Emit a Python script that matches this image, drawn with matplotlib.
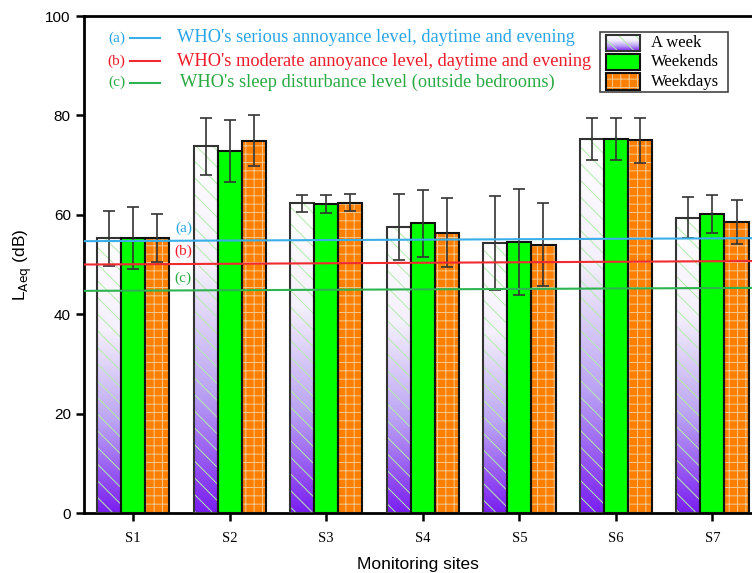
import numpy as np
import matplotlib.pyplot as plt
from matplotlib.colors import LinearSegmentedColormap
from matplotlib.patches import Rectangle

# data (dB)
sites = ['S1', 'S2', 'S3', 'S4', 'S5', 'S6', 'S7']
week = [55.3, 73.8, 62.3, 57.5, 54.3, 75.2, 59.4]
week_err = [5.5, 5.7, 1.7, 6.6, 9.5, 4.2, 4.1]
weekends = [55.3, 72.9, 62.2, 58.3, 54.5, 75.2, 60.1]
weekends_err = [6.3, 6.2, 1.8, 6.7, 10.7, 4.2, 3.8]
weekdays = [55.3, 74.9, 62.4, 56.4, 54.0, 75.0, 58.6]
weekdays_err = [4.8, 5.1, 1.7, 6.9, 8.4, 4.5, 4.4]

# WHO reference lines (slightly tilted in the original drawing)
who_names = ["WHO's serious annoyance level, daytime and evening",
             "WHO's moderate annoyance level, daytime and evening",
             "WHO's sleep disturbance level (outside bedrooms)"]
who_tags = ['(a)', '(b)', '(c)']
who_left = [54.7, 50.0, 44.7]
who_right = [55.3, 50.7, 45.3]
who_colors = ['#3aaee8', '#f02a30', '#2db450']
who_text_colors = ['#2aa6e6', '#ee1c2a', '#2aaa44']

SERIF = ['Liberation Serif', 'DejaVu Serif']
SANS = ['Liberation Sans', 'DejaVu Sans']

plt.rcParams['hatch.linewidth'] = 0.7

fig = plt.figure(figsize=(7.52, 5.73), dpi=100)
ax = fig.add_axes([0.1117, 0.1047, 0.8883, 0.8673])

x = np.arange(1, len(sites) + 1)
w = 0.25
xlim = (0.49, 7.41)

purple = LinearSegmentedColormap.from_list('pw', ['#7a1ef0', '#bba4f4', '#f4f0fc', '#ffffff'])
grad = np.linspace(0, 1, 256).reshape(-1, 1)
hatch_green = '#b4ecac'
hatch_tan = '#f2c890'

# A week: gradient + green diagonal hatch
for xi, h in zip(x - w, week):
    r = Rectangle((xi - w / 2, 0), w, h, facecolor='none', edgecolor='none')
    ax.add_patch(r)
    im = ax.imshow(grad, cmap=purple, origin='lower', aspect='auto',
                   extent=(xi - w / 2, xi + w / 2, 0, h), zorder=1)
    im.set_clip_path(r)
ax.bar(x - w, week, w, facecolor='none', edgecolor=hatch_green, hatch='\\\\',
       linewidth=0, zorder=2)
ax.bar(x - w, week, w, facecolor='none', edgecolor='#333333', linewidth=1.5, zorder=3)

ax.bar(x, weekends, w, color='#00ff00', edgecolor='#111111', linewidth=1.5, zorder=3)

ax.bar(x + w, weekdays, w, facecolor='#ff8000', edgecolor=hatch_tan, hatch='++',
       linewidth=0, zorder=2)
ax.bar(x + w, weekdays, w, facecolor='none', edgecolor='#111111', linewidth=1.5, zorder=3)

for off, vals, errs in [(-w, week, week_err), (0, weekends, weekends_err),
                        (w, weekdays, weekdays_err)]:
    ax.errorbar(x + off, vals, yerr=errs, fmt='none', ecolor='#333333',
                elinewidth=1.2, capsize=4, capthick=1.2, zorder=4)

# WHO lines
for yl, yr, c in zip(who_left, who_right, who_colors):
    ax.plot(xlim, [yl, yr], color=c, linewidth=1.5, zorder=5)
for tag, yl, c in zip(who_tags, who_left, who_text_colors):
    ax.text(1.52, yl + 2.6, tag, color=c, fontsize=11, family=SERIF,
            ha='center', va='center', zorder=6)

# top-left text legend
ty = [0.956, 0.909, 0.866]
tx = [0.139, 0.139, 0.143]
for tag, name, c, lc, yy, xx in zip(who_tags, who_names, who_text_colors, who_colors, ty, tx):
    ax.text(0.049, yy, tag, transform=ax.transAxes, color=c, fontsize=11,
            family=SERIF, ha='center', va='center')
    ax.plot([0.069, 0.114], [yy, yy], transform=ax.transAxes, color=lc, linewidth=1.5)
    ax.text(xx, yy, name, transform=ax.transAxes, color=c, fontsize=13.2,
            family=SERIF, ha='left', va='center')

# box legend (drawn by hand to show the gradient)
def ax_x(px):
    return (px - 84) / 668.0

def ax_y(py):
    return (513 - py) / 497.0

ax.add_patch(Rectangle((ax_x(600), ax_y(92)), ax_x(728) - ax_x(600), ax_y(32) - ax_y(92),
                       transform=ax.transAxes, facecolor='white', edgecolor='#444444',
                       linewidth=1.2, zorder=7))
rows = [(35, 51), (54, 70), (73, 90)]
labels = ['A week', 'Weekends', 'Weekdays']
for (top, bot), lab in zip(rows, labels):
    x0, x1 = ax_x(606), ax_x(640)
    y0, y1 = ax_y(bot), ax_y(top)
    if lab == 'A week':
        r = Rectangle((x0, y0), x1 - x0, y1 - y0, transform=ax.transAxes,
                      facecolor='none', edgecolor='none', zorder=8)
        ax.add_patch(r)
        im = ax.imshow(grad, cmap=purple, origin='lower', aspect='auto',
                       extent=(x0, x1, y0, y1), transform=ax.transAxes, zorder=8)
        im.set_clip_path(r)
        ax.add_patch(Rectangle((x0, y0), x1 - x0, y1 - y0, transform=ax.transAxes,
                               facecolor='none', edgecolor=hatch_green, hatch='\\\\',
                               linewidth=0, zorder=8.5))
        ax.add_patch(Rectangle((x0, y0), x1 - x0, y1 - y0, transform=ax.transAxes,
                               facecolor='none', edgecolor='#333333', linewidth=1.5,
                               zorder=9))
    elif lab == 'Weekends':
        ax.add_patch(Rectangle((x0, y0), x1 - x0, y1 - y0, transform=ax.transAxes,
                               facecolor='#00ff00', edgecolor='#111111', linewidth=1.5,
                               zorder=9))
    else:
        ax.add_patch(Rectangle((x0, y0), x1 - x0, y1 - y0, transform=ax.transAxes,
                               facecolor='#ff8000', edgecolor=hatch_tan, hatch='++',
                               linewidth=0, zorder=8.5))
        ax.add_patch(Rectangle((x0, y0), x1 - x0, y1 - y0, transform=ax.transAxes,
                               facecolor='none', edgecolor='#111111', linewidth=1.5,
                               zorder=9))
    ax.text(ax_x(651), (y0 + y1) / 2, lab, transform=ax.transAxes, fontsize=12,
            family=SERIF, ha='left', va='center', zorder=10)

ax.set_xlim(*xlim)
ax.set_ylim(0, 100)
ax.set_xticks(x)
ax.set_xticklabels(sites, family=SERIF, fontsize=10.5)
ax.set_yticks(np.arange(0, 101, 20))
ax.set_yticklabels([str(v) for v in range(0, 101, 20)], family=SANS, fontsize=11)
ax.tick_params(axis='both', direction='out', length=6, width=1.8)
ax.tick_params(axis='x', pad=8)

for s in ['left', 'bottom', 'top']:
    ax.spines[s].set_linewidth(2)
ax.spines['right'].set_visible(False)

ax.set_xlabel('Monitoring sites', family=SANS, fontsize=12.5, labelpad=8)
ax.set_ylabel(r'L$_{\mathrm{Aeq}}$ (dB)', family=SANS, fontsize=12.5, labelpad=8)

fig.savefig('out.png', dpi=100)
